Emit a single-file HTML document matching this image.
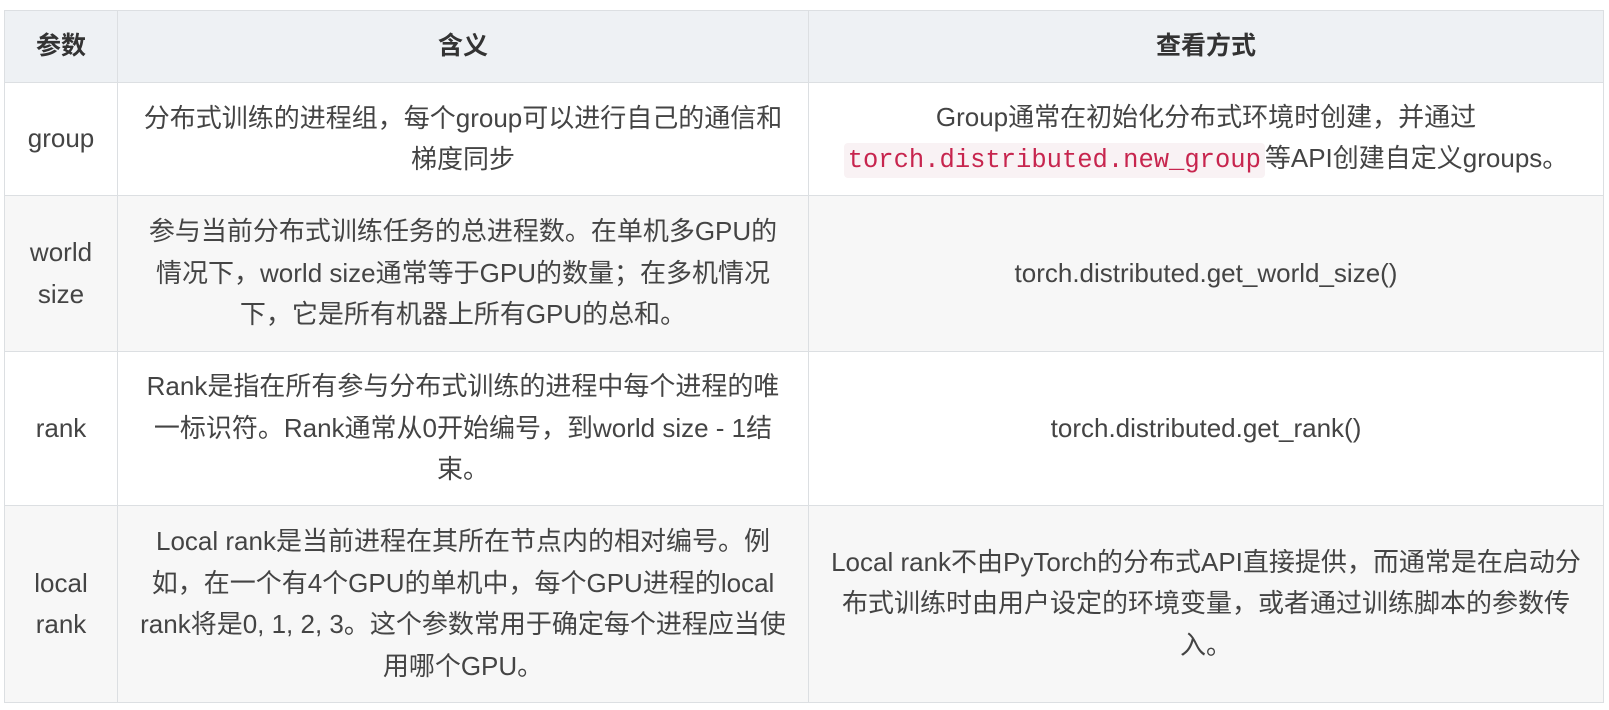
<!DOCTYPE html>
<html><head><meta charset="utf-8"><style>
html,body{margin:0;padding:0;background:#fff;width:1609px;height:710px;overflow:hidden}
table{position:absolute;left:4px;top:10px;border-collapse:collapse;table-layout:fixed;width:1599px;
font-family:"Liberation Sans","Noto Sans CJK SC",sans-serif;font-size:26px;color:#444;}
td,th{border:1px solid #dcdfe2;text-align:center;vertical-align:middle;padding:0 2px;line-height:41.5px;white-space:nowrap;overflow:visible}
th{background:#eef1f4;color:#333;font-weight:bold;font-size:25px;height:71px}
tr.alt td{background:#f7f7f7}
code{font-family:"Liberation Mono",monospace;font-size:25.5px;color:#c7254e;background:#f9f2f4;border-radius:4px;padding:3px 4px}
</style></head><body>
<table>
<colgroup><col style="width:113px"><col style="width:691px"><col style="width:795px"></colgroup>
<tr><th>参数</th><th>含义</th><th>查看方式</th></tr>
<tr style="height:113px"><td>group</td><td>分布式训练的进程组，每个group可以进行自己的通信和<br>梯度同步</td><td>Group通常在初始化分布式环境时创建，并通过<br><code>torch.distributed.new_group</code>等API创建自定义groups。</td></tr>
<tr class="alt" style="height:156px"><td>world<br>size</td><td>参与当前分布式训练任务的总进程数。在单机多GPU的<br>情况下，world size通常等于GPU的数量；在多机情况<br>下，它是所有机器上所有GPU的总和。</td><td>torch.distributed.get_world_size()</td></tr>
<tr style="height:154px"><td>rank</td><td>Rank是指在所有参与分布式训练的进程中每个进程的唯<br>一标识符。Rank通常从0开始编号，到world size - 1结<br>束。</td><td>torch.distributed.get_rank()</td></tr>
<tr class="alt" style="height:197px"><td>local<br>rank</td><td>Local rank是当前进程在其所在节点内的相对编号。例<br>如，在一个有4个GPU的单机中，每个GPU进程的local<br>rank将是0, 1, 2, 3。这个参数常用于确定每个进程应当使<br>用哪个GPU。</td><td>Local rank不由PyTorch的分布式API直接提供，而通常是在启动分<br>布式训练时由用户设定的环境变量，或者通过训练脚本的参数传<br>入。</td></tr>
</table>
</body></html>
